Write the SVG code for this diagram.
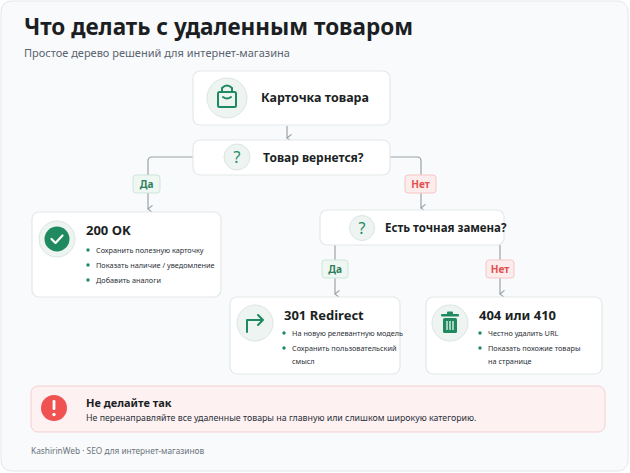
<svg xmlns="http://www.w3.org/2000/svg" width="630" height="473" viewBox="0 0 630 473">
<defs>
<style>
text{font-family:"Noto Sans","Liberation Sans",sans-serif}
.box{fill:#fff;stroke:#e3e8ea;stroke-width:1.2}
.ring{fill:#eef4f1;stroke:#dbe6e1}
.h{font-weight:700;fill:#1b1f24}
.b{font-size:7.3px;fill:#2a3038}
.dot{fill:#1f8a60}
.ln{fill:none;stroke:#9aa3a8;stroke-width:1.2}
.ic{fill:none;stroke:#1f8a60;stroke-width:2;stroke-linecap:round;stroke-linejoin:round}
.q{font-size:16px;fill:#1f8a60;text-anchor:middle}
</style>
<marker id="ar" viewBox="0 0 10 10" refX="5" refY="9" markerWidth="9" markerHeight="9" orient="auto" markerUnits="userSpaceOnUse"><path d="M1,4 L5,9 L9,4" fill="none" stroke="#9aa3a8" stroke-width="1.3"/></marker>
</defs>
<rect x="1" y="1" width="627" height="470" rx="10" fill="#f8fafb" stroke="#e2e8ea"/>
<text x="24" y="35" font-size="22.5" class="h" fill="#141a22">Что делать с удаленным товаром</text>
<text x="24" y="57" font-size="11" fill="#5b6470">Простое дерево решений для интернет-магазина</text>
<g id="connectors">
<path class="ln" d="M287,126 V138" marker-end="url(#ar)"/>
<path class="ln" d="M193,157 H152 Q148,157 148,161 V209" marker-end="url(#ar)"/>
<path class="ln" d="M390,157 H417 Q421,157 421,161 V208" marker-end="url(#ar)"/>
<path class="ln" d="M335,245 V294" marker-end="url(#ar)"/>
<path class="ln" d="M500,245 V294" marker-end="url(#ar)"/>
<g font-size="10" font-weight="700" text-anchor="middle">
<rect x="133" y="175" width="27" height="18" rx="3" fill="#eef7f2" stroke="#cfe5da"/><text x="146.5" y="188" fill="#2e7d5b">Да</text>
<rect x="405" y="175" width="31" height="18" rx="3" fill="#fdecec" stroke="#f7c6c6"/><text x="420.5" y="188" fill="#e05050">Нет</text>
<rect x="322" y="260" width="26" height="18" rx="3" fill="#eef7f2" stroke="#cfe5da"/><text x="335" y="273" fill="#2e7d5b">Да</text>
<rect x="486" y="260" width="28" height="18" rx="3" fill="#fdecec" stroke="#f7c6c6"/><text x="500" y="273" fill="#e05050">Нет</text>
</g>
</g>
<g id="card">
<rect class="box" x="193" y="71" width="197" height="54" rx="7"/>
<circle class="ring" cx="227" cy="98" r="20"/>
<rect class="ic" x="218" y="92" width="18" height="15" rx="1.5" stroke-width="1.5"/>
<path class="ic" stroke-width="1.5" d="M222,92 V88 Q227,83 232,88 V92 M223,97 Q227,100 231,97"/>
<text x="261" y="102" font-size="12.5" class="h">Карточка товара</text>
</g>
<g id="q1">
<rect class="box" x="193" y="140" width="197" height="35" rx="7"/>
<circle class="ring" cx="237" cy="157" r="13"/>
<text x="237" y="163" class="q">?</text>
<text x="263" y="162" font-size="12" class="h">Товар вернется?</text>
</g>
<g id="ok">
<rect class="box" x="32" y="212" width="189" height="85" rx="7"/>
<circle class="ring" cx="57" cy="239" r="18"/>
<circle cx="57" cy="239" r="12.5" fill="#1f8a60"/>
<path d="M51.5,239 L55.5,243 L62.5,235.5" fill="none" stroke="#fff" stroke-width="2.2" stroke-linecap="round" stroke-linejoin="round"/>
<text x="86" y="235" font-size="13" class="h">200 OK</text>
<circle class="dot" cx="88" cy="250" r="1.7"/><text x="96" y="253" class="b">Сохранить полезную карточку</text>
<circle class="dot" cx="88" cy="265" r="1.7"/><text x="96" y="268" class="b">Показать наличие / уведомление</text>
<circle class="dot" cx="88" cy="280" r="1.7"/><text x="96" y="283" class="b">Добавить аналоги</text>
</g>
<g id="q2">
<rect class="box" x="320" y="210" width="184" height="35" rx="7"/>
<circle class="ring" cx="362" cy="228" r="12.5"/>
<text x="362" y="234" class="q">?</text>
<text x="385" y="232" font-size="11.5" class="h">Есть точная замена?</text>
</g>
<g id="redirect">
<rect class="box" x="230" y="297" width="170" height="77" rx="7"/>
<circle class="ring" cx="255" cy="323" r="18"/>
<path class="ic" d="M247,332 V320 H263 M258,315 L263,320 L258,325"/>
<text x="284" y="320" font-size="13" class="h">301 Redirect</text>
<circle class="dot" cx="284" cy="333" r="1.7"/><text x="292" y="336" class="b">На новую релевантную модель</text>
<circle class="dot" cx="284" cy="348" r="1.7"/><text x="292" y="351" class="b">Сохранить пользовательский</text>
<text x="292" y="364" class="b">смысл</text>
</g>
<g id="gone">
<rect class="box" x="426" y="297" width="176" height="77" rx="7"/>
<circle class="ring" cx="450" cy="323" r="18"/>
<rect x="443" y="318" width="14" height="15" rx="1.5" fill="#1f8a60"/>
<rect x="441" y="314" width="18" height="2.5" rx="1" fill="#1f8a60"/>
<rect x="447" y="311.5" width="6" height="3" rx="1" fill="#1f8a60"/>
<path d="M447,321 V330 M450,321 V330 M453,321 V330" stroke="#fff" stroke-width="1.2"/>
<text x="479" y="320" font-size="13" class="h">404 или 410</text>
<circle class="dot" cx="480" cy="333" r="1.7"/><text x="488" y="336" class="b">Честно удалить URL</text>
<circle class="dot" cx="480" cy="348" r="1.7"/><text x="488" y="351" class="b">Показать похожие товары</text>
<text x="488" y="364" class="b">на странице</text>
</g>
<g id="warning">
<rect x="31" y="386" width="574" height="46" rx="7" fill="#fdf1f1" stroke="#f6cfcf"/>
<circle cx="54" cy="408" r="13" fill="#f05252"/>
<rect x="52.6" y="400" width="2.8" height="10" rx="1.2" fill="#fff"/>
<circle cx="54" cy="414.5" r="1.7" fill="#fff"/>
<text x="86" y="407" font-size="11" class="h">Не делайте так</text>
<text x="86" y="421" font-size="8.8" fill="#2a3038">Не перенаправляйте все удаленные товары на главную или слишком широкую категорию.</text>
</g>
<text x="31" y="454" font-size="8.3" fill="#6b737b">KashirinWeb · SEO для интернет-магазинов</text>
</svg>
